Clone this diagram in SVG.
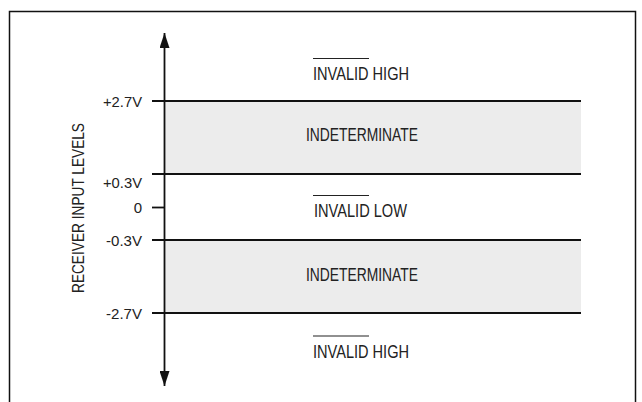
<svg xmlns="http://www.w3.org/2000/svg" width="642" height="402" viewBox="0 0 642 402">
<defs>
<style>
text{font-family:"Liberation Sans",Arial,sans-serif;fill:#222;}
.lvl{text-anchor:end;font-size:15px;}
.reg{font-size:18.5px;}
.ax{font-size:17px;text-anchor:middle;}
.ln{stroke:#111;stroke-width:1.8;fill:none;}
.band{fill:#ececec;stroke:none;}
.ob{stroke:#222;stroke-width:1.2;}
</style>
<marker id="ah" viewBox="0 0 15 10" refX="15" refY="5" markerWidth="15" markerHeight="10" markerUnits="userSpaceOnUse" orient="auto">
<path d="M0,0 L15,5 L0,10 Z" fill="#111"/>
</marker>
</defs>
<rect x="0" y="0" width="642" height="402" fill="#fff"/>
<rect x="9.5" y="11.5" width="626" height="400" fill="none" stroke="#111" stroke-width="1.5"/>
<g id="bands">
<rect class="band" x="164.5" y="101" width="416.5" height="73"/>
<rect class="band" x="164.5" y="240" width="416.5" height="73"/>
</g>
<g id="connectors">
<line class="ln" x1="164.5" y1="207" x2="164.5" y2="33" marker-end="url(#ah)"/>
<line class="ln" x1="164.5" y1="207" x2="164.5" y2="386" marker-end="url(#ah)"/>
<line class="ln" x1="152" y1="101" x2="581" y2="101"/>
<line class="ln" x1="152" y1="174" x2="581" y2="174"/>
<line class="ln" x1="152" y1="207.5" x2="164.5" y2="207.5"/>
<line class="ln" x1="152" y1="240" x2="581" y2="240"/>
<line class="ln" x1="152" y1="313" x2="581" y2="313"/>
</g>
<g id="levels">
<text class="lvl" x="142" y="107.3" textLength="39" lengthAdjust="spacingAndGlyphs">+2.7V</text>
<text class="lvl" x="142" y="188" textLength="39" lengthAdjust="spacingAndGlyphs">+0.3V</text>
<text class="lvl" x="142" y="213.3">0</text>
<text class="lvl" x="142" y="246" textLength="36" lengthAdjust="spacingAndGlyphs">-0.3V</text>
<text class="lvl" x="142" y="319" textLength="36" lengthAdjust="spacingAndGlyphs">-2.7V</text>
</g>
<g id="axis-label">
<text class="ax" transform="translate(84,208) rotate(-90)" textLength="170" lengthAdjust="spacingAndGlyphs">RECEIVER INPUT LEVELS</text>
</g>
<g id="region-invalid-high-top">
<line class="ob" x1="313" y1="58.5" x2="369" y2="58.5"/>
<text class="reg" x="313" y="80" textLength="96" lengthAdjust="spacingAndGlyphs">INVALID HIGH</text>
</g>
<g id="region-indeterminate-top">
<text class="reg" x="306" y="140.7" textLength="112" lengthAdjust="spacingAndGlyphs">INDETERMINATE</text>
</g>
<g id="region-invalid-low">
<line class="ob" x1="313" y1="195.5" x2="369" y2="195.5"/>
<text class="reg" x="314" y="216.7" textLength="93" lengthAdjust="spacingAndGlyphs">INVALID LOW</text>
</g>
<g id="region-indeterminate-bottom">
<text class="reg" x="306" y="281" textLength="112" lengthAdjust="spacingAndGlyphs">INDETERMINATE</text>
</g>
<g id="region-invalid-high-bottom">
<line class="ob" x1="313" y1="336" x2="369" y2="336"/>
<text class="reg" x="313" y="357.5" textLength="96" lengthAdjust="spacingAndGlyphs">INVALID HIGH</text>
</g>
</svg>
